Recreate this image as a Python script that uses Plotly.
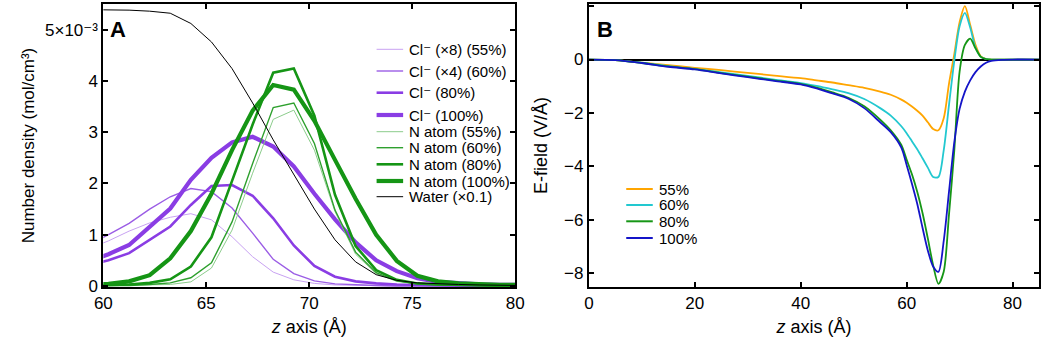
import plotly.graph_objects as go

# ---------------- Panel A data (densities in units of 1e-3 mol/cm^3) ----------------
z_a = [59.25, 60.25, 61.25, 62.25, 63.25, 64.25, 65.25, 66.25, 67.25, 68.25, 69.25,
       70.25, 71.25, 72.25, 73.25, 74.25, 75.25, 76.25, 77.25, 78.25, 79.25, 80.25]

cl_55 = [0.72, 0.88, 1.07, 1.23, 1.34, 1.41, 1.29, 0.96, 0.57, 0.27, 0.12,
         0.05, 0.02, 0.01, 0.01, 0.0, 0.0, 0.0, 0.0, 0.0, 0.0, 0.0]
cl_60 = [0.80, 1.00, 1.22, 1.50, 1.74, 1.90, 1.84, 1.52, 1.03, 0.52, 0.24,
         0.10, 0.04, 0.02, 0.01, 0.0, 0.0, 0.0, 0.0, 0.0, 0.0, 0.0]
cl_80 = [0.41, 0.50, 0.64, 0.90, 1.16, 1.58, 1.95, 1.97, 1.76, 1.32, 0.79,
         0.39, 0.18, 0.09, 0.05, 0.03, 0.02, 0.01, 0.01, 0.0, 0.0, 0.0]
cl_100 = [0.47, 0.62, 0.80, 1.16, 1.51, 2.07, 2.50, 2.80, 2.91, 2.72, 2.33,
          1.80, 1.30, 0.85, 0.50, 0.29, 0.15, 0.08, 0.05, 0.03, 0.02, 0.02]
n_55 = [0.0, 0.01, 0.01, 0.02, 0.03, 0.08, 0.35, 1.09, 2.20, 3.25, 3.43,
        2.65, 1.45, 0.62, 0.24, 0.09, 0.04, 0.02, 0.01, 0.0, 0.0, 0.0]
n_60 = [0.01, 0.01, 0.01, 0.03, 0.06, 0.16, 0.45, 1.25, 2.39, 3.48, 3.57,
        2.78, 1.48, 0.66, 0.26, 0.10, 0.04, 0.02, 0.01, 0.0, 0.0, 0.0]
n_80 = [0.01, 0.02, 0.03, 0.06, 0.13, 0.38, 0.95, 2.05, 3.15, 4.16, 4.24,
        3.32, 1.78, 0.78, 0.31, 0.12, 0.05, 0.03, 0.02, 0.01, 0.01, 0.01]
n_100 = [0.02, 0.04, 0.09, 0.21, 0.54, 1.07, 1.80, 2.65, 3.42, 3.92, 3.83,
         3.22, 2.46, 1.70, 1.00, 0.49, 0.20, 0.09, 0.05, 0.03, 0.02, 0.02]
water = [5.39, 5.39, 5.38, 5.36, 5.32, 5.12, 4.76, 4.24, 3.57, 2.85, 2.17,
         1.50, 0.90, 0.47, 0.22, 0.11, 0.06, 0.04, 0.03, 0.02, 0.02, 0.01]

names_a = ["Cl⁻ (×8) (55%)", "Cl⁻ (×4) (60%)", "Cl⁻ (80%)",
           "Cl⁻ (100%)", "N atom (55%)", "N atom (60%)", "N atom (80%)",
           "N atom (100%)", "Water (×0.1)"]
series_a = [cl_55, cl_60, cl_80, cl_100, n_55, n_60, n_80, n_100, water]

ytick_vals_a = [0, 1, 2, 3, 4, 5]
ytick_text_a = ["0", "1", "2", "3", "4", "5×10⁻³"]
xtick_vals_a = [60, 65, 70, 75, 80]

# ---------------- Panel B data (E-field, V/Å) ----------------
z_b = [0, 5, 10, 15, 20, 25, 30, 35, 40, 43, 46, 49, 52, 55, 57, 59, 60, 61, 62, 63, 64,
       65, 66, 67, 68, 69, 70, 71, 72, 73, 74, 75, 76, 78, 80, 85]

e_55 = [0, -0.02, -0.12, -0.21, -0.31, -0.40, -0.50, -0.60, -0.70, -0.78, -0.86, -0.96,
        -1.06, -1.20, -1.32, -1.50, -1.62, -1.76, -1.92, -2.10, -2.35, -2.60, -2.65,
        -2.20, -0.90, 0.20, 1.40, 2.00, 1.30, 0.55, 0.12, 0.02, 0.0, 0.0, 0.0, 0.0]
e_60 = [0, -0.02, -0.12, -0.25, -0.35, -0.48, -0.61, -0.75, -0.88, -0.99, -1.12, -1.26,
        -1.48, -1.82, -2.10, -2.50, -2.76, -3.06, -3.36, -3.70, -4.05, -4.40, -4.40,
        -3.40, -1.70, -0.05, 1.25, 1.75, 1.20, 0.45, 0.10, 0.02, 0.0, 0.0, 0.0, 0.0]
e_80 = [0, -0.02, -0.13, -0.26, -0.36, -0.51, -0.64, -0.78, -0.91, -1.05, -1.23, -1.43,
        -1.75, -2.25, -2.65, -3.20, -3.75, -4.30, -4.95, -5.75, -6.70, -7.70, -8.40,
        -7.95, -5.80, -3.40, -0.45, 0.55, 0.78, 0.42, 0.10, 0.02, 0.0, 0.0, 0.0, 0.0]
e_100 = [0, -0.02, -0.13, -0.27, -0.37, -0.52, -0.66, -0.80, -0.93, -1.08, -1.27, -1.47,
         -1.82, -2.35, -2.72, -3.30, -3.95, -4.65, -5.40, -6.30, -7.15, -7.75, -7.95,
         -6.80, -4.95, -3.10, -1.85, -1.20, -0.78, -0.47, -0.26, -0.12, -0.05, -0.01, 0.0, 0.0]

names_b = ["55%", "60%", "80%", "100%"]
series_b = [e_55, e_60, e_80, e_100]
ytick_vals_b = [2, 0, -2, -4, -6, -8]
xtick_vals_b = [0, 20, 40, 60, 80]

# ---------------- Styles ----------------
FONT = "Liberation Sans, Arial, Helvetica, DejaVu Sans, sans-serif"
W, H = 1050, 341
M_T, M_B = 4, 54

colors_a = ["#c8a2f2", "#9b5de5", "#8a3de4", "#8a3de4",
            "#8ccc8c", "#2ea02e", "#159515", "#159515", "#000000"]
widths_a = [1.0, 1.4, 2.6, 4.2, 1.0, 1.4, 2.6, 4.2, 1.0]
colors_b = ["#ffa500", "#22c8d0", "#169616", "#1414c8"]
width_b = 1.8

fig = go.Figure()

for name, ys, c, w in zip(names_a, series_a, colors_a, widths_a):
    fig.add_trace(go.Scatter(x=z_a, y=ys, mode="lines", name=name,
                             line=dict(color=c, width=w), showlegend=False,
                             xaxis="x", yaxis="y"))

for name, ys, c in zip(names_b, series_b, colors_b):
    fig.add_trace(go.Scatter(x=z_b, y=ys, mode="lines", name=name,
                             line=dict(color=c, width=width_b, shape="spline", smoothing=0.8),
                             showlegend=False, xaxis="x2", yaxis="y2"))


def px(xp):
    return xp / W


def py(yp):
    return (H - M_B - yp) / (H - M_B - M_T)


shapes = []
annotations = []

# Manual legend for panel A
leg_a_y = [49.3, 71, 92.7, 115, 131.7, 147.7, 164.3, 181, 196.7]
for name, c, w, yy in zip(names_a, colors_a, widths_a, leg_a_y):
    shapes.append(dict(type="line", xref="paper", yref="paper",
                       x0=px(374), x1=px(401), y0=py(yy), y1=py(yy),
                       line=dict(color=c, width=w)))
    annotations.append(dict(text=name, xref="paper", yref="paper", x=px(405), y=py(yy),
                            xanchor="left", yanchor="middle", showarrow=False,
                            font=dict(family=FONT, size=15, color="#000")))

# Manual legend for panel B
leg_b_y = [189, 205, 221.3, 238]
for name, c, yy in zip(names_b, colors_b, leg_b_y):
    shapes.append(dict(type="line", xref="paper", yref="paper",
                       x0=px(628), x1=px(655), y0=py(yy), y1=py(yy),
                       line=dict(color=c, width=2)))
    annotations.append(dict(text=name, xref="paper", yref="paper", x=px(659), y=py(yy),
                            xanchor="left", yanchor="middle", showarrow=False,
                            font=dict(family=FONT, size=15, color="#000")))

# Panel letters
annotations.append(dict(text="<b>A</b>", xref="paper", yref="paper", x=px(101), y=py(30),
                        xanchor="left", yanchor="middle", showarrow=False,
                        font=dict(family=FONT, size=22, color="#000")))
annotations.append(dict(text="<b>B</b>", xref="paper", yref="paper", x=px(596), y=py(30),
                        xanchor="left", yanchor="middle", showarrow=False,
                        font=dict(family=FONT, size=22, color="#000")))

axis_common = dict(showline=True, linecolor="#000", linewidth=2, mirror="ticks",
                   ticks="inside", ticklen=5, tickwidth=1.5, tickcolor="#000",
                   showgrid=False,
                   tickfont=dict(family=FONT, size=17, color="#000"))

fig.update_layout(
    width=W, height=H,
    margin=dict(l=0, r=0, t=M_T, b=M_B),
    paper_bgcolor="white", plot_bgcolor="white",
    showlegend=False,
    font=dict(family=FONT, color="#000"),
    xaxis=dict(domain=[px(96), px(515)], range=[60, 80], tickvals=xtick_vals_a,
               title=dict(text="<i>z</i> axis (Å)", font=dict(family=FONT, size=18), standoff=8),
               anchor="y", zeroline=False, **axis_common),
    yaxis=dict(domain=[0, 1], range=[-0.02, 5.5], tickvals=ytick_vals_a, ticktext=ytick_text_a,
               title=dict(text="Number density (mol/cm³)", font=dict(family=FONT, size=17),
                          standoff=6),
               anchor="x", zeroline=False, **axis_common),
    xaxis2=dict(domain=[px(590), px(1048)], range=[0, 85], tickvals=xtick_vals_b,
                title=dict(text="<i>z</i> axis (Å)", font=dict(family=FONT, size=18), standoff=8),
                anchor="y2", zeroline=False, **axis_common),
    yaxis2=dict(domain=[0, 1], range=[-8.52, 2.08], tickvals=ytick_vals_b,
                title=dict(text="E-field (V/Å)", font=dict(family=FONT, size=18), standoff=12),
                anchor="x2", zeroline=True, zerolinecolor="#000", zerolinewidth=1.8,
                **axis_common),
    shapes=shapes,
    annotations=annotations,
)

fig.write_html("out.html")
